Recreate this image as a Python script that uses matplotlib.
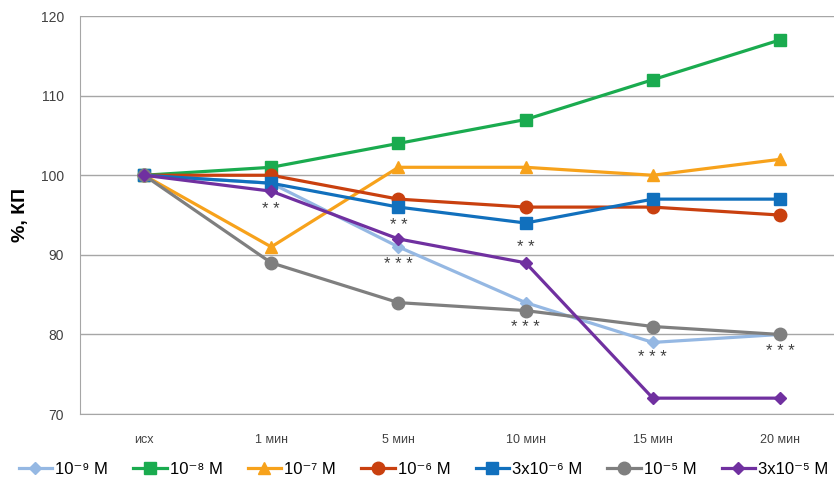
import matplotlib.pyplot as plt

plt.rcParams['font.family'] = ['Liberation Sans', 'DejaVu Sans']

# категории по оси X
times = ['исх', '1 мин', '5 мин', '10 мин', '15 мин', '20 мин']

# значения серий, %
c_1e9 = [100, 99, 91, 84, 79, 80]
c_1e8 = [100, 101, 104, 107, 112, 117]
c_1e7 = [100, 91, 101, 101, 100, 102]
c_1e6 = [100, 100, 97, 96, 96, 95]
c_3e6 = [100, 99, 96, 94, 97, 97]
c_1e5 = [100, 89, 84, 83, 81, 80]
c_3e5 = [100, 98, 92, 89, 72, 72]

labels = ['10⁻⁹ M', '10⁻⁸ M', '10⁻⁷ M', '10⁻⁶ M', '3x10⁻⁶ M', '10⁻⁵ M', '3x10⁻⁵ M']
series = [c_1e9, c_1e8, c_1e7, c_1e6, c_3e6, c_1e5, c_3e5]
colors = ['#95b8e3', '#1aab4f', '#f7a21b', '#c9400f', '#1170bd', '#7f7f7f', '#7030a0']
markers = ['D', 's', '^', 'o', 's', 'o', 'D']
msizes = [6, 8, 8.5, 9, 8, 9, 6]

# значимость: (серия, точка, текст, сдвиг в пикселях)
stars = [
    (6, 1, '* *', -13),
    (6, 2, '* *', 10),
    (0, 2, '* * *', -13),
    (6, 3, '* *', 11),
    (5, 3, '* * *', -12),
    (0, 4, '* * *', -11),
    (5, 5, '* * *', -12),
]

fig = plt.figure(figsize=(8.34, 4.86), dpi=100)
ax = fig.add_axes([0.0965, 0.148, 0.915, 0.819])

x = list(range(len(times)))
for vals, lab, col, m, ms in zip(series, labels, colors, markers, msizes):
    ax.plot(x, vals, color=col, marker=m, markersize=ms, linewidth=2.3, label=lab)

for si, pi, txt, dy in stars:
    ax.annotate(txt, (x[pi], series[si][pi]), xytext=(0, dy), textcoords='offset points',
                ha='center', va='center', fontsize=12, color='#404040')

ax.set_xlim(-0.5, 5.5)
ax.set_ylim(70, 120)
ax.set_yticks(range(70, 121, 10))
ax.set_xticks(x)
ax.set_xticklabels(times)
ax.grid(axis='y', color='#a6a6a6', linewidth=1)
ax.set_axisbelow(True)
for s in ['top', 'right']:
    ax.spines[s].set_visible(False)
ax.spines['left'].set_color('#a6a6a6')
ax.spines['bottom'].set_color('#a6a6a6')
ax.tick_params(axis='both', length=0, colors='#404040')
ax.tick_params(axis='y', labelsize=10, pad=12)
ax.tick_params(axis='x', labelsize=9, pad=14)
ax.set_ylabel('%, КП', fontsize=14, fontweight='bold', labelpad=8)

fig.legend(loc='center', bbox_to_anchor=(0.508, 0.034), ncol=7, frameon=False,
           fontsize=12, handlelength=2.0, handletextpad=0.2, columnspacing=1.5)

fig.savefig('out.png', dpi=100)
